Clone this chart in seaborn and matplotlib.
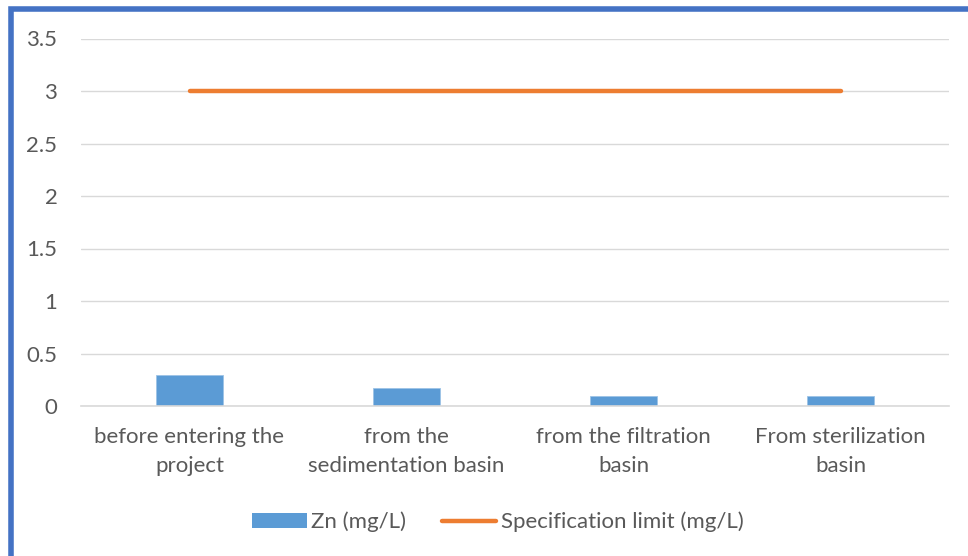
import matplotlib
matplotlib.use("Agg")
import matplotlib.pyplot as plt
import seaborn as sns
import numpy as np
import pandas as pd
from matplotlib.patches import Patch, Rectangle
from matplotlib.lines import Line2D

categories = ["before entering the\nproject", "from the\nsedimentation basin",
              "from the filtration\nbasin", "From sterilization\nbasin"]
zn_values = [0.30, 0.17, 0.10, 0.10]
spec_limit = [3, 3, 3, 3]
y_ticks = [0, 0.5, 1, 1.5, 2, 2.5, 3, 3.5]
y_tick_labels = ["0", "0.5", "1", "1.5", "2", "2.5", "3", "3.5"]

sns.set_theme(style="white")
plt.rcParams['font.family'] = ['Lato', 'DejaVu Sans']

W, H = 968, 556
FS = 16
fig = plt.figure(figsize=(W / 100, H / 100), dpi=100)
ax = fig.add_axes([81 / W, (H - 406) / H, (949 - 81) / W, (406 - 38.5) / H])

df = pd.DataFrame({"cat": categories, "zn": zn_values})
sns.barplot(data=df, x="cat", y="zn", color="#5B9BD5", width=0.31, ax=ax,
            saturation=1, edgecolor="#9DC3E6", linewidth=0.6)
sns.lineplot(x=np.arange(len(categories)), y=spec_limit, color="#ED7D31",
             linewidth=3.2, ax=ax, solid_capstyle="round")

ax.set_xlim(-0.5, len(categories) - 0.5)
ax.set_ylim(0, 3.5)
ax.set_yticks(y_ticks)
ax.set_yticklabels(y_tick_labels)
ax.set_xlabel("")
ax.set_ylabel("")
ax.yaxis.grid(True, color="#D9D9D9", linewidth=1.0)
ax.set_axisbelow(True)
for s in ["top", "right", "left"]:
    ax.spines[s].set_visible(False)
ax.spines["bottom"].set_color("#D9D9D9")
ax.spines["bottom"].set_linewidth(1.2)
ax.tick_params(axis="y", length=0, pad=17, labelsize=FS, labelcolor="#595959")
ax.tick_params(axis="x", length=0, pad=15, labelsize=FS, labelcolor="#595959")
for lbl in ax.get_xticklabels():
    lbl.set_linespacing(1.55)

handles = [Patch(facecolor="#5B9BD5", edgecolor="none", label="Zn (mg/L)"),
           Line2D([0], [0], color="#ED7D31", linewidth=3.2, solid_capstyle="round",
                  label="Specification limit (mg/L)")]
fig.legend(handles=handles, loc="center", bbox_to_anchor=(498 / W, 1 - 522 / H),
           ncol=2, frameon=False, fontsize=FS, labelcolor="#595959",
           handlelength=2.45, handleheight=0.6, handletextpad=0.2, columnspacing=1.6)

fig.patches.append(Rectangle((10.5 / W, -0.05), 1.2, 1 - 9 / H + 0.05,
                             transform=fig.transFigure, fill=False,
                             edgecolor="#4472C4", linewidth=4.0))

fig.savefig("out.png", dpi=100)
